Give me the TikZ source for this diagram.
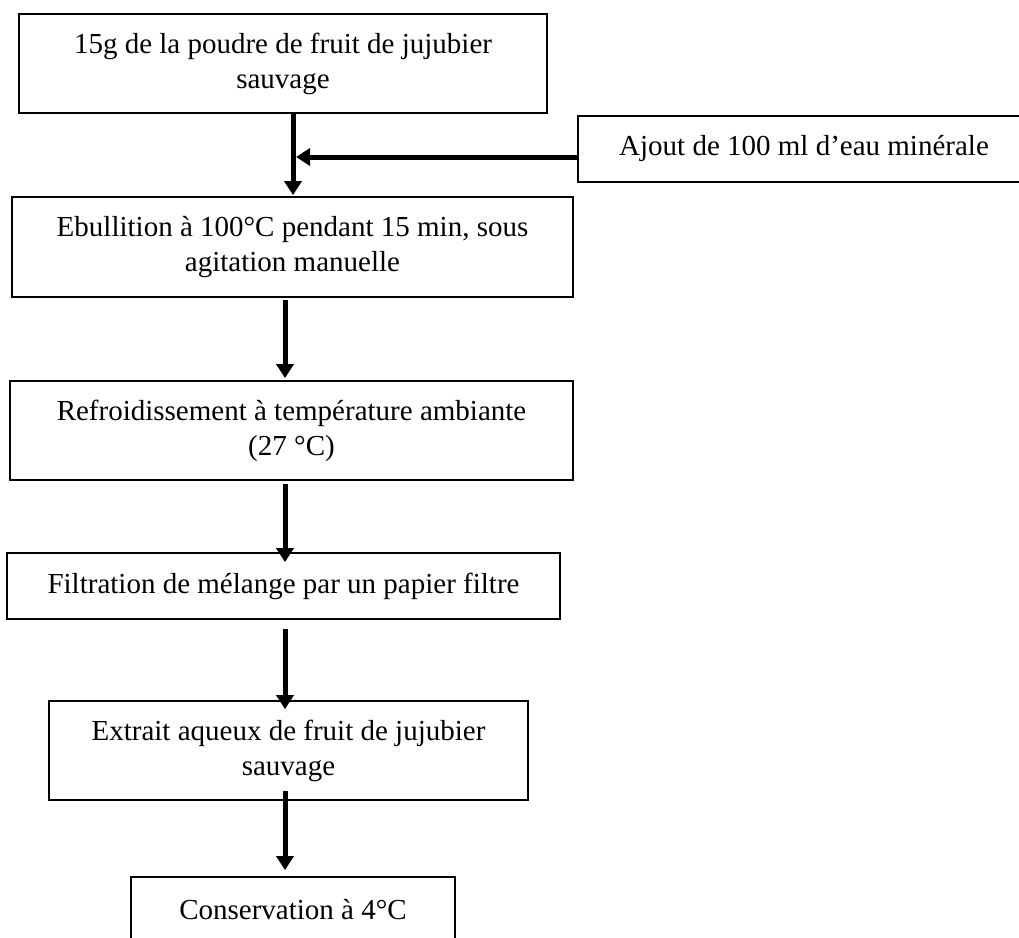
\documentclass[tikz,border=0pt]{standalone}
\usepackage{fontspec}
\setmainfont{Liberation Serif}
\usetikzlibrary{arrows.meta}
\begin{document}
\begin{tikzpicture}[x=1pt,y=-1pt,
  box/.style={draw, line width=1.8pt, rectangle, inner sep=0pt, align=center,
    font={\fontsize{29}{35}\selectfont}},
  arr/.style={line width=5pt, -{Triangle[width=17pt,length=14pt]}}]
\useasboundingbox (0,0) rectangle (1019,937);
\clip (0,0) rectangle (1019,937);
\fill[white] (0,0) rectangle (1019,937);
\node[box, minimum width=528pt, minimum height=99pt] (b1) at (283,63.5)
  {15g de la poudre de fruit de jujubier\\sauvage};
\node[box, minimum width=452pt, minimum height=66pt] (aj) at (804,149)
  {Ajout de 100 ml d’eau minérale};
\node[box, minimum width=561pt, minimum height=100pt] (b3) at (292.5,247)
  {Ebullition à 100°C pendant 15 min, sous\\agitation manuelle};
\node[box, minimum width=563pt, minimum height=99pt] (b4) at (291.5,430.5)
  {Refroidissement à température ambiante\\(27 °C)};
\node[box, minimum width=553pt, minimum height=66pt] (b5) at (283.5,586)
  {Filtration de mélange par un papier filtre};
\node[box, minimum width=479pt, minimum height=99pt] (b6) at (288.5,750.5)
  {Extrait aqueux de fruit de jujubier\\sauvage};
\node[box, minimum width=324pt, minimum height=66pt] (b7) at (293,910)
  {Conservation à 4°C};
\coordinate (j1) at (293,157);
\draw[line width=5pt] (b1.south -| j1) -- (j1);
\draw[arr] (j1) -- ([yshift=1pt]b3.north -| j1);
\draw[arr] (aj.west |- j1) -- ([xshift=3pt]j1);
\draw[arr] ([yshift=-2pt]b3.south -| 285,0) -- ([yshift=2pt]b4.north -| 285,0);
\draw[arr] ([yshift=-3pt]b4.south -| 285,0) -- ([yshift=-10pt]b5.north -| 285,0);
\draw[arr] ([yshift=-9pt]b5.south -| 285,0) -- ([yshift=-9pt]b6.north -| 285,0);
\draw[arr] ([yshift=10pt]b6.south -| 285,0) -- ([yshift=6pt]b7.north -| 285,0);
\end{tikzpicture}
\end{document}
